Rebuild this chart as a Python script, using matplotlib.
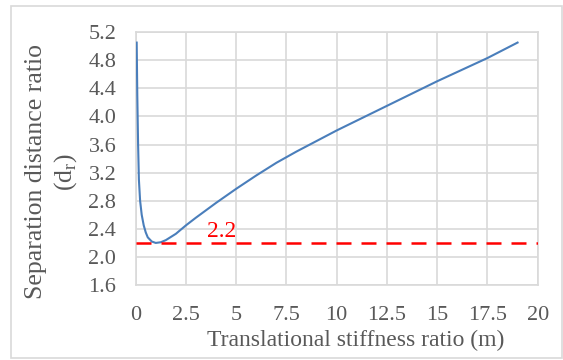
import numpy as np
import matplotlib.pyplot as plt
from matplotlib.patches import Rectangle

# curve
m = [0.05, 0.08, 0.12, 0.16, 0.22, 0.3, 0.4, 0.5, 0.6, 0.8, 1.0, 1.25, 1.5, 2.0, 2.5,
     3.0, 4.0, 5.0, 6.0, 7.0, 7.5, 8.0, 9.0, 10.0, 12.5, 15.0, 17.5, 19.0]
dr = [5.05, 4.3, 3.6, 3.1, 2.8, 2.6, 2.45, 2.35, 2.28, 2.22, 2.2, 2.21, 2.24, 2.33, 2.45,
      2.56, 2.77, 2.97, 3.16, 3.34, 3.42, 3.5, 3.65, 3.8, 4.15, 4.5, 4.83, 5.05]
limit = 2.2

xticks = [0, 2.5, 5, 7.5, 10, 12.5, 15, 17.5, 20]
xticklabels = ['0', '2.5', '5', '7.5', '10', '12.5', '15', '17.5', '20']
yticks = [1.6, 2.0, 2.4, 2.8, 3.2, 3.6, 4.0, 4.4, 4.8, 5.2]

plt.rcParams['font.family'] = ['Liberation Serif', 'DejaVu Serif']
grey = '#595959'

fig = plt.figure(figsize=(5.63, 3.6), dpi=100)
ax = fig.add_axes([0.241, 0.208, 0.714, 0.703])

ax.plot(m, dr, color='#4a7ebb', lw=1.5, zorder=3)
ax.axhline(limit, color='#ff0000', lw=1.8, ls=(0, (6, 4)), zorder=4)
ax.text(3.55, 2.28, '2.2', color='#ff0000', fontsize=17, va='baseline')

ax.set_xlim(0, 20)
ax.set_ylim(1.6, 5.2)
ax.set_xticks(xticks)
ax.set_xticklabels(xticklabels)
ax.set_yticks(yticks)
ax.set_yticklabels([f'{v:.1f}' for v in yticks])
ax.grid(True, color='#d9d9d9', lw=1.2)
ax.set_axisbelow(True)
for s in ax.spines.values():
    s.set_color('#d9d9d9')
    s.set_linewidth(1.2)
ax.tick_params(length=0, labelsize=16, colors=grey)
ax.tick_params(axis='y', pad=14)
ax.tick_params(axis='x', pad=15)

ax.set_xlabel('Translational stiffness ratio (m)', fontsize=17, color=grey)
ax.xaxis.set_label_coords(0.548, -0.177)
ax.xaxis.label.set_va('top')
ax.set_ylabel('Separation distance ratio\n(d$_\\mathregular{r}$)', fontsize=18.5, color=grey,
              linespacing=1.3)
ax.yaxis.set_label_coords(-0.14, 0.447)

fig.patches.append(Rectangle((11 / 563, 2 / 360), 551 / 563, 352 / 360, transform=fig.transFigure,
                             fill=False, edgecolor='#d9d9d9', lw=1.2))

fig.savefig('out.png', dpi=100)
